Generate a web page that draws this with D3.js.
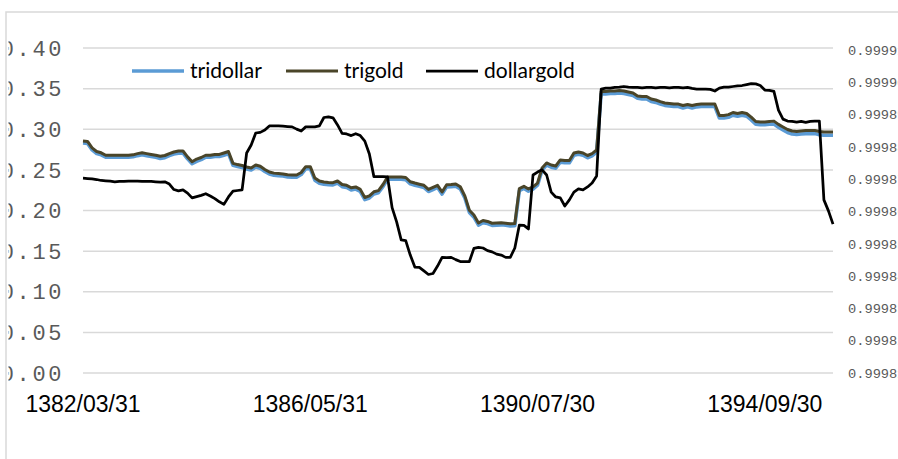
<!DOCTYPE html>
<html>
<head>
<meta charset="utf-8" />
<title>tridollar trigold dollargold</title>
<style>
  body { margin: 0; background: #fff; }
  .grid line { stroke: #d9d9d9; stroke-width: 1.5px; }
  .lab-left { font-family: "Liberation Mono", monospace; font-size: 22px; letter-spacing: 2.6px; fill: #595959; }
  .lab-right { font-family: "Liberation Mono", monospace; font-size: 13.7px; fill: #595959; }
  .lab-x { font-family: "Liberation Sans", Arial, sans-serif; font-size: 23px; fill: #000; }
  .legend text { font-family: Lato, "Open Sans", sans-serif; font-size: 21px; fill: #000; }
</style>
</head>
<body>
<script src="https://cdn.jsdelivr.net/npm/d3@7"></script>
<script>
// monthly series, first point 1382/03/31
var tickLabels = ["1382/03/31", "1386/05/31", "1390/07/30", "1394/09/30"];
var tickIndex = [0, 50, 100, 150];
var leftTicks = [0, 0.05, 0.10, 0.15, 0.20, 0.25, 0.30, 0.35, 0.40];
var rightTicks = [0.99991, 0.99990, 0.99989, 0.99988, 0.99987, 0.99986,
                  0.99985, 0.99984, 0.99983, 0.99982, 0.99981];

var tridollar = [
 0.283,0.2825,0.2745,0.270,0.2685,0.2655,0.2655,0.2655,0.2655,0.2655,
 0.2655,0.266,0.2675,0.2685,0.2675,0.2665,0.2655,0.264,0.265,0.2675,
 0.2695,0.2705,0.2705,0.2635,0.2575,0.2605,0.2625,0.2655,0.2655,0.2665,
 0.2665,0.268,0.270,0.2555,0.254,0.2528,0.251,0.2497,0.2535,0.2518,
 0.248,0.2448,0.2433,0.2428,0.2423,0.2413,0.241,0.241,0.2442,0.2513,
 0.2513,0.2373,0.2336,0.2323,0.2318,0.2315,0.2336,0.2293,0.2283,0.2253,
 0.2263,0.2233,0.2133,0.2153,0.2203,0.2218,0.2293,0.2385,0.2385,0.2385,
 0.2385,0.2379,0.2327,0.2311,0.2297,0.2283,0.2233,0.2258,0.2283,0.2201,
 0.229,0.2293,0.2299,0.2265,0.2153,0.1976,0.1918,0.1819,0.185,0.1838,
 0.1816,0.1819,0.1823,0.1817,0.1809,0.1813,0.2243,0.2271,0.2238,0.2263,
 0.2311,0.2496,0.2558,0.2533,0.2521,0.2595,0.2588,0.2588,0.268,0.2692,
 0.268,0.2649,0.2672,0.2717,0.3435,0.3435,0.344,0.344,0.3447,0.344,
 0.3428,0.3416,0.338,0.3373,0.3373,0.3342,0.333,0.331,0.3293,0.3287,
 0.328,0.328,0.3262,0.3275,0.3262,0.3275,0.328,0.328,0.328,0.328,
 0.3137,0.3137,0.3147,0.3173,0.3161,0.3173,0.3161,0.3115,0.306,0.3055,
 0.3055,0.306,0.3065,0.3025,0.2992,0.296,0.2941,0.2935,0.2941,0.2946,
 0.2946,0.2946,0.2933,0.2927,0.2927,0.2927
];

var trigold = [
 0.2855,0.285,0.277,0.2726,0.271,0.268,0.268,0.268,0.268,0.268,
 0.268,0.2685,0.270,0.271,0.270,0.269,0.268,0.2667,0.2677,0.270,
 0.272,0.2732,0.2732,0.266,0.260,0.2633,0.2652,0.268,0.268,0.269,
 0.269,0.2708,0.2726,0.258,0.2565,0.2554,0.2535,0.2523,0.256,0.2544,
 0.2505,0.2474,0.246,0.2455,0.245,0.244,0.2437,0.2437,0.2468,0.254,
 0.254,0.240,0.2363,0.235,0.2345,0.2342,0.2363,0.232,0.231,0.228,
 0.229,0.226,0.216,0.218,0.223,0.2245,0.232,0.2412,0.2412,0.2412,
 0.2412,0.2406,0.2354,0.2338,0.2324,0.231,0.226,0.2285,0.231,0.2228,
 0.2317,0.232,0.2326,0.2292,0.218,0.2003,0.1945,0.1846,0.1877,0.1865,
 0.1843,0.1846,0.185,0.1844,0.1836,0.184,0.227,0.2298,0.2265,0.229,
 0.2338,0.2523,0.2585,0.256,0.2548,0.2622,0.2615,0.2615,0.2708,0.272,
 0.2708,0.2677,0.270,0.2745,0.3465,0.3465,0.347,0.347,0.3477,0.347,
 0.3458,0.3446,0.341,0.3403,0.3403,0.3372,0.336,0.334,0.3323,0.3317,
 0.331,0.331,0.3292,0.3305,0.3292,0.3305,0.331,0.331,0.331,0.331,
 0.317,0.317,0.318,0.3206,0.3194,0.3206,0.3194,0.315,0.3095,0.309,
 0.309,0.3095,0.310,0.306,0.3028,0.2997,0.2978,0.2972,0.2978,0.2985,
 0.2985,0.2985,0.2972,0.2966,0.2966,0.2966
];

var dollargold = [
 0.9998703,0.9998702,0.9998701,0.9998699,0.9998696,0.9998695,0.9998694,0.9998692,0.9998693,0.9998693,
 0.9998694,0.9998694,0.9998694,0.9998693,0.9998693,0.9998693,0.9998692,0.9998691,0.9998692,0.9998685,
 0.9998668,0.9998664,0.9998667,0.9998657,0.9998642,0.9998646,0.9998650,0.9998655,0.9998648,0.9998640,
 0.9998630,0.9998622,0.9998645,0.9998663,0.9998665,0.9998667,0.9998781,0.9998806,0.9998843,0.9998845,
 0.9998852,0.9998865,0.9998865,0.9998865,0.9998864,0.9998863,0.9998862,0.9998855,0.9998849,0.9998862,
 0.9998862,0.9998862,0.9998865,0.9998891,0.9998893,0.9998890,0.9998868,0.9998842,0.9998840,0.9998835,
 0.9998841,0.9998835,0.9998818,0.9998778,0.9998708,0.9998708,0.9998708,0.9998707,0.9998612,0.9998568,
 0.9998512,0.9998510,0.9998465,0.9998428,0.9998427,0.9998416,0.9998405,0.9998408,0.9998431,0.9998458,
 0.9998457,0.9998458,0.9998451,0.9998445,0.9998445,0.9998445,0.9998486,0.9998489,0.9998487,0.9998479,
 0.9998475,0.9998468,0.9998465,0.9998458,0.9998458,0.9998487,0.9998558,0.9998557,0.9998546,0.9998713,
 0.9998722,0.9998729,0.9998713,0.9998660,0.9998645,0.9998642,0.9998617,0.9998636,0.9998660,0.9998670,
 0.9998667,0.9998676,0.9998688,0.9998710,0.9998979,0.9998982,0.9998982,0.9998984,0.9998985,0.9998987,
 0.9998985,0.9998984,0.9998984,0.9998983,0.9998984,0.9998984,0.9998983,0.9998984,0.9998984,0.9998983,
 0.9998984,0.9998984,0.9998983,0.9998984,0.9998981,0.9998979,0.9998979,0.9998979,0.9998978,0.9998973,
 0.9998982,0.9998985,0.9998985,0.9998987,0.9998989,0.9998990,0.9998993,0.9998996,0.9998995,0.9998990,
 0.9998976,0.9998975,0.9998972,0.9998914,0.9998886,0.9998880,0.9998879,0.9998877,0.9998879,0.9998876,
 0.9998879,0.9998880,0.9998880,0.9998636,0.9998602,0.9998561
];

var width = 898, height = 459;

var svg = d3.select("body").append("svg")
    .attr("width", width)
    .attr("height", height);

// chart frame (runs off the right / bottom of the crop)
svg.append("rect")
    .attr("x", 6).attr("y", 12)
    .attr("width", 1000).attr("height", 600)
    .attr("fill", "#fff")
    .attr("stroke", "#d9d9d9")
    .attr("stroke-width", 1.5);

// the left tick labels are cut by the frame in the original
svg.append("clipPath").attr("id", "inner")
  .append("rect").attr("x", 8.5).attr("y", 13).attr("width", 1000).attr("height", 600);

var x = d3.scaleLinear().domain([0, tridollar.length - 1]).range([83, 833]);
var y = d3.scaleLinear().domain([0, 0.40]).range([373, 48]);
var y2 = d3.scaleLinear().domain([0.99981, 0.99991]).range([373, 50]);

var grid = svg.append("g").attr("class", "grid");
grid.selectAll("line")
    .data(leftTicks)
    .enter().append("line")
    .attr("x1", 83).attr("x2", 833)
    .attr("y1", function(d){ return y(d); })
    .attr("y2", function(d){ return y(d); });

svg.append("g").attr("clip-path", "url(#inner)").selectAll("text")
    .data(leftTicks)
    .enter().append("text")
    .attr("class", "lab-left")
    .attr("x", 64)
    .attr("y", function(d){ return y(d); })
    .attr("dy", "0.35em")
    .attr("text-anchor", "end")
    .text(function(d){ return d3.format(".2f")(d); });

svg.append("g").selectAll("text")
    .data(rightTicks)
    .enter().append("text")
    .attr("class", "lab-right")
    .attr("x", 848)
    .attr("y", function(d){ return y2(d); })
    .attr("dy", "0.35em")
    .text(function(d){ return d3.format(".5f")(d); });

svg.append("g").selectAll("text")
    .data(tickIndex)
    .enter().append("text")
    .attr("class", "lab-x")
    .attr("x", function(d){ return x(d); })
    .attr("y", 404)
    .attr("dy", "0.35em")
    .attr("text-anchor", "middle")
    .text(function(d, i){ return tickLabels[i]; });

var line1 = d3.line().x(function(d, i){ return x(i); }).y(function(d){ return y(d); });
var line2 = d3.line().x(function(d, i){ return x(i); }).y(function(d){ return y2(d); });

var series = [
  {name: "tridollar", values: tridollar, line: line1, color: "#5b9bd5", w: 3.5},
  {name: "trigold", values: trigold, line: line1, color: "#4a4529", w: 3},
  {name: "dollargold", values: dollargold, line: line2, color: "#000000", w: 2.75}
];

svg.append("g").selectAll("path")
    .data(series)
    .enter().append("path")
    .attr("fill", "none")
    .attr("stroke", function(d){ return d.color; })
    .attr("stroke-width", function(d){ return d.w; })
    .attr("stroke-linejoin", "round")
    .attr("d", function(d){ return d.line(d.values); });

// legend
var legX = [132, 286, 426];
var leg = svg.append("g").attr("class", "legend");
var item = leg.selectAll("g")
    .data(series)
    .enter().append("g")
    .attr("transform", function(d, i){ return "translate(" + legX[i] + ",71)"; });
item.append("line")
    .attr("x1", 0).attr("x2", 52)
    .attr("stroke", function(d){ return d.color; })
    .attr("stroke-width", function(d){ return d.w; });
item.append("text")
    .attr("x", 58)
    .attr("dy", "0.35em")
    .text(function(d){ return d.name; });
</script>
</body>
</html>
